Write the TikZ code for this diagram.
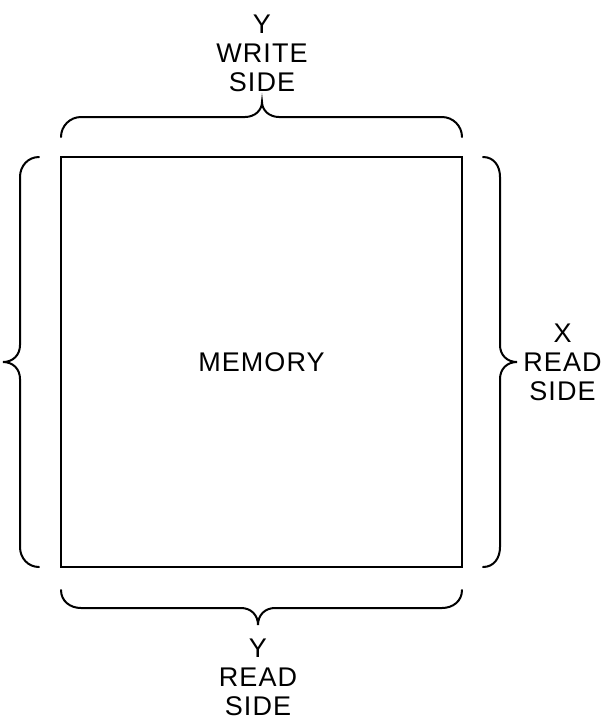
\documentclass[tikz,border=0pt]{standalone}
\usepackage{fontspec}
\setmainfont{Liberation Sans}[LetterSpace=4]
\usetikzlibrary{positioning}
\tikzset{
  box/.style={draw,line width=1pt,minimum width=200.5pt,minimum height=205pt,inner sep=0pt,font=\fontsize{13.5}{14.5}\selectfont},
  brc/.style={line width=1pt,line cap=round},
  lbl/.style={align=center,inner sep=1pt,font=\fontsize{13.5}{14.5}\selectfont}}
\begin{document}
\begin{tikzpicture}[x=0.5pt,y=-0.5pt]
\useasboundingbox (0,0) rectangle (611,719);
\node[box] (mem) at (261.5,362) {MEMORY};
% brace tips
\coordinate (ttip) at (262,102);
\coordinate (ltip) at (3,362);
\coordinate (rtip) at (517,362);
\coordinate (btip) at (258,625);
% braces
\draw[brc] (61,137) .. controls (61,126) and (70,117) .. (81,117) -- (245,117)
  .. controls (255,117) and (262,110) .. (ttip) .. controls (262,110) and (269,117) .. (279,117)
  -- (442,117) .. controls (453,117) and (462,126) .. (462,137);
\draw[brc] (39,157) .. controls (28,157) and (20,166) .. (20,177) -- (20,345)
  .. controls (20,355) and (13,362) .. (ltip) .. controls (13,362) and (20,369) .. (20,379)
  -- (20,547) .. controls (20,558) and (28,567) .. (39,567);
\draw[brc] (483,157) .. controls (494,157) and (500,166) .. (500,177) -- (500,345)
  .. controls (500,355) and (507,362) .. (rtip) .. controls (507,362) and (500,369) .. (500,379)
  -- (500,547) .. controls (500,558) and (494,567) .. (483,567);
\draw[brc] (61,590) .. controls (61,601) and (70,608) .. (81,608) -- (241,608)
  .. controls (251,608) and (258,615) .. (btip) .. controls (258,615) and (265,608) .. (275,608)
  -- (442,608) .. controls (453,608) and (462,601) .. (462,590);
% labels
\node[lbl, above=4pt of ttip] (wside) {Y\\WRITE\\SIDE};
\node[lbl, right=2pt of rtip] (xside) {X\\READ\\SIDE};
\node[lbl, below=6pt of btip] (yside) {Y\\READ\\SIDE};
\end{tikzpicture}
\end{document}
